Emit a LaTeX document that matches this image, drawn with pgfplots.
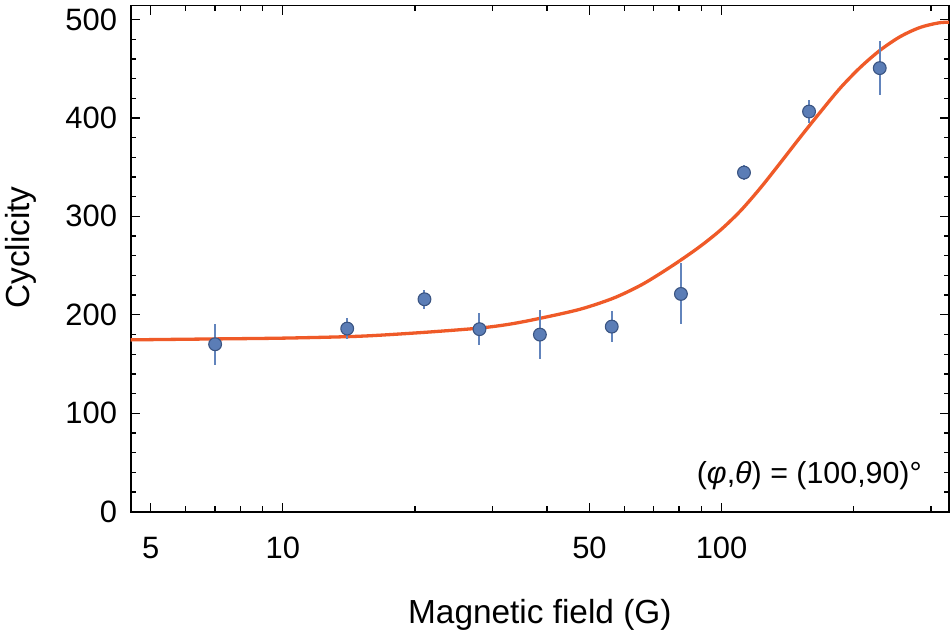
\documentclass[border=0pt]{standalone}
\usepackage{fontspec}
\setmainfont{Liberation Sans}
\usepackage{pgfplots}
\pgfplotsset{compat=1.18}
\usepackage{pgfplotstable}
\definecolor{mfill}{RGB}{91,125,182}
\definecolor{medge}{RGB}{58,84,130}
\definecolor{ebar}{RGB}{98,132,188}
\definecolor{curve}{RGB}{239,90,40}

\pgfplotstableread{
x y e
7.01 170.1 21
14.02 186.0 11
21.03 215.8 9.5
28.07 185.4 16.5
38.55 179.9 24.5
56.2 188.0 15.5
80.8 221.2 31
112.5 344.5 7.5
158.3 406.5 12
229.4 450.6 27.5
}\pts

\pgfplotstableread{
x y
4.40 174.5
5.50 175.0
7.01 175.5
10.0 176.3
14.02 177.8
16.67 179.3
21.68 182.6
28.18 186.6
33.0 190.6
38.63 196.5
47.64 205.7
56.75 217.0
65.28 229.8
72.53 242.0
80.54 255.3
89.5 269.7
99.4 286.0
110.4 305.5
122.6 328.8
136.2 354.5
151.2 380.5
168.0 406.0
186.6 430.5
207.3 451.5
230.2 469.0
255.7 482.7
284.0 492.0
315.5 496.8
340.0 497.0
}\fit

\begin{document}
\begin{tikzpicture}
\begin{semilogxaxis}[
  scale only axis,
  width=818.3bp, height=506bp,
  xmin=4.5, xmax=330,
  ymin=0, ymax=514,
  xtick={5,10,50,100},
  xticklabels={5,10,50,100},
  minor xtick={6,7,8,9,20,30,40,60,70,80,90,200,300},
  ytick={0,100,200,300,400,500},
  minor ytick={20,40,60,80,120,140,160,180,220,240,260,280,320,340,360,380,420,440,460,480},
  /pgf/number format/assume math mode=true,
  tick label style={font=\fontsize{31}{31}\selectfont},
  xticklabel style={anchor=base, inner sep=0pt, yshift=-46.6bp},
  yticklabel style={anchor=east, inner sep=0pt, xshift=-13.5bp},
  major tick length=9bp,
  minor tick length=5.5bp,
  tick style={line width=1.3bp, black},
  axis line style={line width=1.6bp},
  tick align=inside,
  label style={font=\fontsize{33.5}{33.5}\selectfont},
  xlabel={Magnetic field (G)},
  ylabel={Cyclicity},
  xlabel style={at={(axis description cs:0.5,0)}, anchor=base, yshift=-111.3bp},
  ylabel style={at={(axis description cs:-0.1231,0.522)}, anchor=base},
]
\addplot[curve, line width=3.3bp, smooth, no markers] table[x=x,y=y] {\fit};
\addplot[only marks, mark=*, mark size=6.4bp,
  mark options={fill=mfill, draw=medge, line width=1.1bp},
  error bars/.cd, y dir=both, y explicit, error mark=none,
  error bar style={ebar, line width=2bp}]
  table[x=x, y=y, y error=e] {\pts};
\node[anchor=base east, inner sep=0pt, font=\fontsize{30.5}{30.5}\selectfont]
  at (axis description cs:0.967,0.0553) {(\textit{φ},\textit{θ}) = (100,90)°};
\coordinate (LL) at (rel axis cs:0,0);
\coordinate (UR) at (rel axis cs:1,1);
\end{semilogxaxis}
\pgfresetboundingbox
\path[use as bounding box] ([shift={(-130.7bp,-118.3bp)}]LL) rectangle ([shift={(3bp,5.7bp)}]UR);
\end{tikzpicture}
\end{document}
